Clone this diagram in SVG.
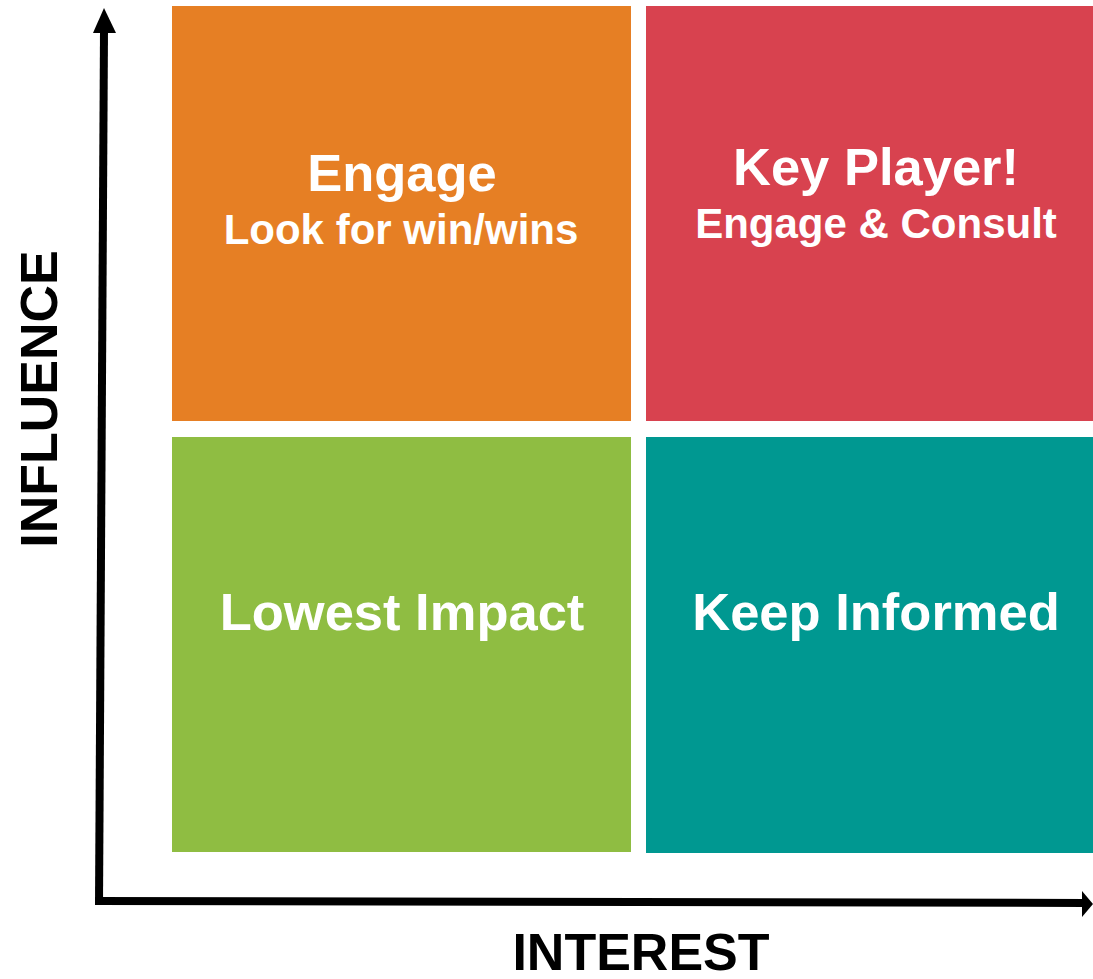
<svg xmlns="http://www.w3.org/2000/svg" width="1093" height="979" viewBox="0 0 1093 979">
  <style>
    .label { font-family: "Liberation Sans", Arial, sans-serif; font-weight: bold; fill: #ffffff; text-anchor: middle; }
    .title { font-size: 52.5px; }
    .sub { font-size: 42px; }
    .axis-label { font-family: "Liberation Sans", Arial, sans-serif; font-weight: bold; fill: #000000; text-anchor: middle; font-size: 52px; }
    .axis { stroke: #000000; stroke-width: 8; fill: none; }
  </style>
  <rect width="1093" height="979" fill="#ffffff"/>

  <!-- quadrants -->
  <g id="engage">
    <rect x="172" y="6" width="459" height="415" fill="#E67F24"/>
    <text class="label title" x="402" y="191">Engage</text>
    <text class="label sub" x="401" y="244">Look for win/wins</text>
  </g>
  <g id="key-player">
    <rect x="646" y="6" width="447" height="415" fill="#D8424F"/>
    <text class="label title" x="876" y="185">Key Player!</text>
    <text class="label sub" x="876" y="238">Engage &amp; Consult</text>
  </g>
  <g id="lowest-impact">
    <rect x="172" y="437" width="459" height="415" fill="#8FBD42"/>
    <text class="label title" x="402" y="630">Lowest Impact</text>
  </g>
  <g id="keep-informed">
    <rect x="646" y="437" width="447" height="416" fill="#009891"/>
    <text class="label title" x="876" y="630">Keep Informed</text>
  </g>

  <!-- axes -->
  <g id="axes">
    <line class="axis" x1="99" y1="905" x2="104" y2="30"/>
    <polygon points="104,8 93,33 116,33" fill="#000000"/>
    <line class="axis" x1="95" y1="901" x2="1085" y2="903"/>
    <polygon points="1093,904 1082,891 1082,917" fill="#000000"/>
  </g>

  <g id="axis-labels">
    <text class="axis-label" transform="translate(57,399) rotate(-90)">INFLUENCE</text>
    <text class="axis-label" x="641" y="970">INTEREST</text>
  </g>
</svg>
